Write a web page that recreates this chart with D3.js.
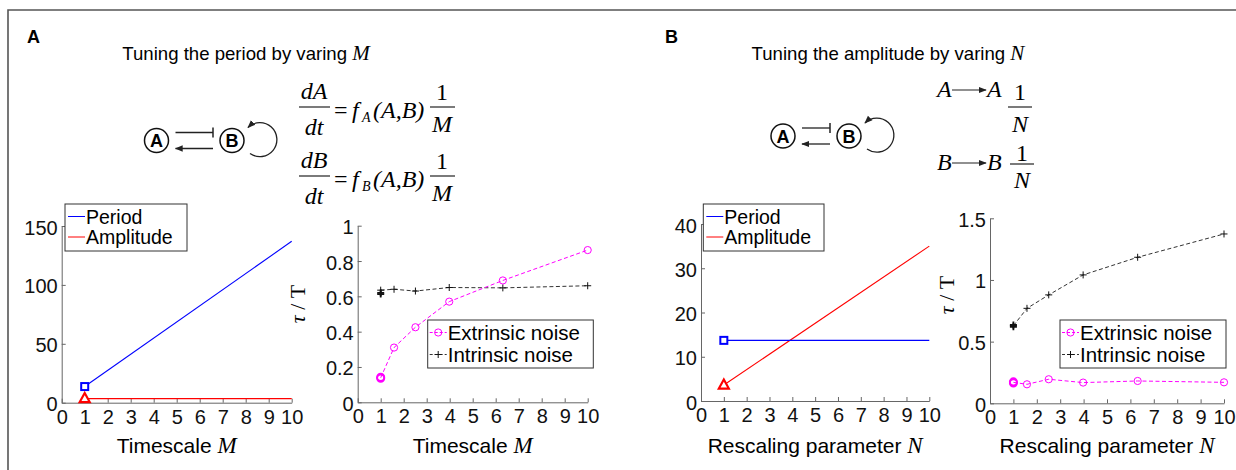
<!DOCTYPE html>
<html>
<head>
<meta charset="utf-8">
<script src="https://cdn.jsdelivr.net/npm/d3@7"></script>
<style>
  body { margin: 0; background: #fff; }
  svg { font-family: "Liberation Sans", Arial, sans-serif; }
  .serif { font-family: "Liberation Serif", "Times New Roman", serif; }
</style>
</head>
<body>
<div id="fig"></div>
<script>
// ---- data ----
var xTicks = [0, 1, 2, 3, 4, 5, 6, 7, 8, 9, 10];

// period / amplitude vs rescaling parameter (straight lines, end points)
var lineX = [1, 10];
var periodM = [13.7, 137];
var amplitudeM = [3.5, 3.5];
var periodN = [13.7, 13.7];
var amplitudeN = [3.6, 35];

// tau / T for the two noise sources
var noiseX = [1, 1.58, 2.51, 3.98, 6.31, 10];
var extrinsicM = [0.139, 0.31, 0.425, 0.57, 0.69, 0.862];
var intrinsicM = [0.635, 0.64, 0.63, 0.65, 0.648, 0.66];
var extrinsicN = [0.170, 0.154, 0.195, 0.168, 0.181, 0.170];
var intrinsicN = [0.629, 0.77, 0.879, 1.041, 1.184, 1.373];
// repeated runs at the first point (drawn on top of each other)
var extrinsicM1 = [0.136, 0.142];
var intrinsicM1 = [0.62, 0.613];
var extrinsicN1 = [0.165, 0.174];
var intrinsicN1 = [0.62, 0.635];

var yTicksA1 = [0, 50, 100, 150];
var yTicksA2 = [0, 0.2, 0.4, 0.6, 0.8, 1];
var yTicksB1 = [0, 10, 20, 30, 40];
var yTicksB2 = [0, 0.5, 1, 1.5];

var W = 1236, H = 470;
var svg = d3.select("#fig").append("svg").attr("width", W).attr("height", H);
svg.append("rect").attr("width", W).attr("height", H).attr("fill", "#fff");

// frame (top + left only)
svg.append("path").attr("d", "M8,470 L8,10 L1236,10")
  .attr("fill", "none").attr("stroke", "#555").attr("stroke-width", 1.6);

// panel letters
svg.append("text").attr("x", 27).attr("y", 43).attr("font-size", 18).attr("font-weight", "bold").text("A");
svg.append("text").attr("x", 665).attr("y", 43).attr("font-size", 18).attr("font-weight", "bold").text("B");

function title(cx, txt, v) {
  var t = svg.append("text").attr("x", cx).attr("y", 60).attr("text-anchor", "middle").attr("font-size", 18.6);
  t.append("tspan").text(txt);
  t.append("tspan").attr("class", "serif").attr("font-style", "italic").attr("font-size", 21).text(v);
}
title(246, "Tuning the period by varing ", "M");
title(888, "Tuning the amplitude by varing ", "N");

// arrow heads
var defs = svg.append("defs");
defs.append("marker").attr("id", "arr").attr("viewBox", "0 0 10 10").attr("refX", 9).attr("refY", 5)
  .attr("markerWidth", 8).attr("markerHeight", 8).attr("markerUnits", "userSpaceOnUse").attr("orient", "auto")
  .append("path").attr("d", "M0,1 L10,5 L0,9 Z").attr("fill", "#222");

// A --| B, B --> A, B self-loop
function diagram(ax, bx, cy) {
  var g = svg.append("g");
  [[ax, "A"], [bx, "B"]].forEach(function (n) {
    g.append("circle").attr("cx", n[0]).attr("cy", cy).attr("r", 12)
      .attr("fill", "#fff").attr("stroke", "#111").attr("stroke-width", 1.5);
    g.append("text").attr("x", n[0]).attr("y", cy + 6.5).attr("text-anchor", "middle")
      .attr("font-size", 18).attr("font-weight", "bold").text(n[1]);
  });
  var l = ax + 19, r = bx - 19;
  g.append("line").attr("x1", l).attr("x2", r).attr("y1", cy - 8).attr("y2", cy - 8).attr("stroke", "#222").attr("stroke-width", 1.3);
  g.append("line").attr("x1", r).attr("x2", r).attr("y1", cy - 13).attr("y2", cy - 3).attr("stroke", "#222").attr("stroke-width", 1.5);
  g.append("line").attr("x1", r).attr("x2", l).attr("y1", cy + 8).attr("y2", cy + 8).attr("stroke", "#222").attr("stroke-width", 1.3)
    .attr("marker-end", "url(#arr)");
  var c = bx + 29;
  g.append("path").attr("d", "M" + (c - 11) + "," + (cy + 13) + " A17,17 0 1 0 " + (c - 13) + "," + (cy - 13))
    .attr("fill", "none").attr("stroke", "#222").attr("stroke-width", 1.3).attr("marker-end", "url(#arr)");
}
diagram(156.5, 232, 140.5);
diagram(783, 849, 136);

// equations (panel A)
function st(x, y, txt, opt) {
  opt = opt || {};
  return svg.append("text").attr("class", "serif").attr("x", x).attr("y", y)
    .attr("text-anchor", opt.anchor || "start").attr("font-size", opt.size || 24)
    .attr("font-style", opt.upright ? "normal" : "italic").text(txt);
}
function bar(x1, x2, y) {
  svg.append("line").attr("x1", x1).attr("x2", x2).attr("y1", y).attr("y2", y).attr("stroke", "#222").attr("stroke-width", 1.2);
}
[["A", 0], ["B", 69]].forEach(function (e) {
  var o = e[1];
  st(314, 99 + o, "d" + e[0], { anchor: "middle" });
  bar(299, 330, 107 + o);
  st(314, 135 + o, "dt", { anchor: "middle" });
  st(334, 118 + o, "=", { upright: true });
  st(352, 118 + o, "f");
  st(362, 122 + o, e[0], { size: 14 });
  st(373, 118 + o, "(A,B)");
  st(442, 100 + o, "1", { anchor: "middle", upright: true });
  bar(430, 455, 107 + o);
  st(442, 132 + o, "M", { anchor: "middle" });
});

// equations (panel B)
[["A", 97, 90, 100, 107, 132, 1020], ["B", 170, 163, 161, 164, 188, 1022]].forEach(function (e) {
  st(937, e[1], e[0]);
  svg.append("line").attr("x1", 952).attr("x2", 986).attr("y1", e[2]).attr("y2", e[2])
    .attr("stroke", "#222").attr("stroke-width", 1.2).attr("marker-end", "url(#arr)");
  st(987, e[1], e[0]);
  st(e[6], e[3], "1", { anchor: "middle", upright: true });
  bar(e[6] - 12, e[6] + 12, e[4]);
  st(e[6], e[5], "N", { anchor: "middle" });
});

// ---- charts ----
function axes(c) {
  var g = svg.append("g");
  var x = d3.scaleLinear().domain([0, 10]).range([c.x0, c.x1]);
  var y = d3.scaleLinear().domain(c.ydom).range([c.y0, c.y1]);
  var ax = g.append("g").attr("transform", "translate(0," + c.y0 + ")")
    .call(d3.axisBottom(x).tickValues(xTicks).tickSizeInner(-4).tickSizeOuter(0).tickPadding(7));
  var ay = g.append("g").attr("transform", "translate(" + c.x0 + ",0)")
    .call(d3.axisLeft(y).tickValues(c.yticks).tickFormat(function (d) { return String(d); })
      .tickSizeInner(-4).tickSizeOuter(0).tickPadding(4));
  [ax, ay].forEach(function (a) {
    a.selectAll("path,line").attr("stroke", "#666");
    a.selectAll("text").attr("font-size", 20).attr("fill", "#111")
      .attr("font-family", "'Liberation Sans', Arial, sans-serif");
  });
  ay.selectAll("text").attr("dy", "0.4em");
  var lab = g.append("text").attr("x", (c.x0 + c.x1) / 2).attr("y", 453).attr("text-anchor", "middle").attr("font-size", 21);
  lab.append("tspan").text(c.xlabel[0]);
  lab.append("tspan").attr("class", "serif").attr("font-style", "italic").attr("font-size", 23).text(c.xlabel[1]);
  if (c.ylab) {
    var yl = g.append("text").attr("class", "serif").attr("font-size", 22)
      .attr("transform", "translate(" + c.ylab[0] + "," + c.ylab[1] + ") rotate(-90)").attr("text-anchor", "middle");
    yl.append("tspan").attr("font-style", "italic").text("\u03c4");
    yl.append("tspan").text(" / T");
  }
  return { g: g, x: x, y: y };
}

function pts(xs, ys) { return xs.map(function (v, i) { return [v, ys[i]]; }); }

function square(g, px, py, col) {
  g.append("rect").attr("x", px - 3.5).attr("y", py - 3.5).attr("width", 7).attr("height", 7)
    .attr("fill", "#fff").attr("stroke", col).attr("stroke-width", 2);
}
function triangle(g, px, py, col) {
  g.append("path").attr("d", "M" + px + "," + (py - 5.5) + " L" + (px + 5) + "," + (py + 3.5) + " L" + (px - 5) + "," + (py + 3.5) + " Z")
    .attr("fill", "#fff").attr("stroke", col).attr("stroke-width", 2.2);
}
function circ(g, px, py, w) {
  g.append("circle").attr("cx", px).attr("cy", py).attr("r", 3.6).attr("fill", "none")
    .attr("stroke", "#ff00ff").attr("stroke-width", w || 1);
}
function plus(g, px, py, w) {
  g.append("path").attr("d", "M" + (px - 3.5) + "," + py + " h7 M" + px + "," + (py - 3.5) + " v7")
    .attr("stroke", "#111").attr("stroke-width", w || 1);
}

function periodChart(c, period, amp) {
  var a = axes(c), line = d3.line().x(function (d) { return a.x(d[0]); }).y(function (d) { return a.y(d[1]); });
  a.g.append("path").attr("d", line(pts(lineX, amp))).attr("fill", "none").attr("stroke", "#ff0000").attr("stroke-width", 1.1);
  a.g.append("path").attr("d", line(pts(lineX, period))).attr("fill", "none").attr("stroke", "#0000ff").attr("stroke-width", 1.1);
  square(a.g, a.x(lineX[0]), a.y(period[0]), "#0000ff");
  triangle(a.g, a.x(lineX[0]), a.y(amp[0]), "#ff0000");
  // legend
  var L = c.leg, lg = a.g.append("g");
  lg.append("rect").attr("x", L[0]).attr("y", L[1]).attr("width", L[2]).attr("height", L[3])
    .attr("fill", "#fff").attr("stroke", "#333").attr("stroke-width", 1);
  [["Period", "#0000ff"], ["Amplitude", "#ff0000"]].forEach(function (d, i) {
    var yy = L[1] + 12.5 + i * 20.5;
    lg.append("line").attr("x1", L[0] + 3).attr("x2", L[0] + 20).attr("y1", yy).attr("y2", yy).attr("stroke", d[1]);
    lg.append("text").attr("x", L[0] + 21).attr("y", yy + 7).attr("font-size", 19.5).text(d[0]);
  });
}

function noiseChart(c, ext, intr, ext1, intr1) {
  var a = axes(c), line = d3.line().x(function (d) { return a.x(d[0]); }).y(function (d) { return a.y(d[1]); });
  a.g.append("path").attr("d", line(pts(noiseX, intr))).attr("fill", "none").attr("stroke", "#333")
    .attr("stroke-dasharray", "4,2.5").attr("stroke-width", 1);
  a.g.append("path").attr("d", line(pts(noiseX, ext))).attr("fill", "none").attr("stroke", "#ff00ff")
    .attr("stroke-dasharray", "4,2.5").attr("stroke-width", 1);
  noiseX.forEach(function (v, i) { plus(a.g, a.x(v), a.y(intr[i])); circ(a.g, a.x(v), a.y(ext[i])); });
  intr1.forEach(function (v) { plus(a.g, a.x(noiseX[0]), a.y(v), 1.8); });
  ext1.forEach(function (v) { circ(a.g, a.x(noiseX[0]), a.y(v), 1.8); });
  var L = c.leg, lg = a.g.append("g");
  lg.append("rect").attr("x", L[0]).attr("y", L[1]).attr("width", L[2]).attr("height", L[3])
    .attr("fill", "#fff").attr("stroke", "#333").attr("stroke-width", 1);
  [["Extrinsic noise", "#ff00ff", circ], ["Intrinsic noise", "#333", plus]].forEach(function (d, i) {
    var yy = L[1] + 12.5 + i * 22;
    lg.append("line").attr("x1", L[0] + 2).attr("x2", L[0] + 19).attr("y1", yy).attr("y2", yy)
      .attr("stroke", d[1]).attr("stroke-dasharray", "3,2");
    d[2](lg, L[0] + 10.5, yy);
    lg.append("text").attr("x", L[0] + 20).attr("y", yy + 7.2).attr("font-size", 20.5).text(d[0]);
  });
}

periodChart({ x0: 61.7, x1: 291.7, y0: 402.7, y1: 226, ydom: [0, 150], yticks: yTicksA1,
  xlabel: ["Timescale ", "M"], leg: [65, 204, 122, 47] }, periodM, amplitudeM);
noiseChart({ x0: 357.7, x1: 587.7, y0: 402.3, y1: 225.7, ydom: [0, 1], yticks: yTicksA2,
  xlabel: ["Timescale ", "M"], ylab: [305, 304], leg: [427.7, 320, 165.6, 48] },
  extrinsicM, intrinsicM, extrinsicM1, intrinsicM1);
periodChart({ x0: 701, x1: 929.3, y0: 401, y1: 224, ydom: [0, 40], yticks: yTicksB1,
  xlabel: ["Rescaling parameter ", "N"], leg: [703.3, 204, 120.7, 47] }, periodN, amplitudeN);
noiseChart({ x0: 990, x1: 1224, y0: 403.3, y1: 218.3, ydom: [0, 1.5], yticks: yTicksB2,
  xlabel: ["Rescaling parameter ", "N"], ylab: [954, 295], leg: [1060, 320, 166, 48] },
  extrinsicN, intrinsicN, extrinsicN1, intrinsicN1);
</script>
</body>
</html>
